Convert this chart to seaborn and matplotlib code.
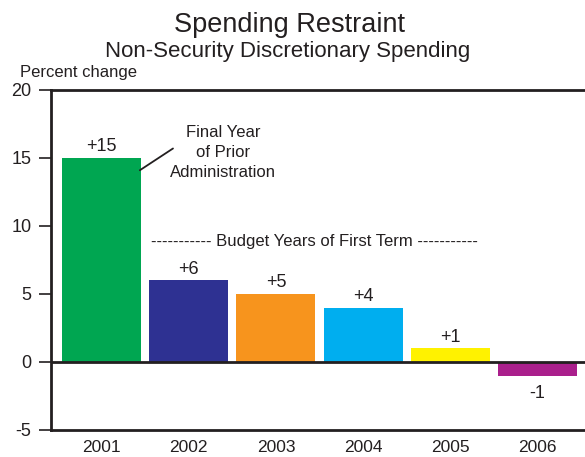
import matplotlib
matplotlib.use("Agg")
import matplotlib.pyplot as plt
import seaborn as sns
import pandas as pd

years = ["2001", "2002", "2003", "2004", "2005", "2006"]
values = [15, 6, 5, 4, 1, -1]
colors = ["#00A651", "#2E3192", "#F7941D", "#00AEEF", "#FFF200", "#AA1F8C"]
yticks = [-5, 0, 5, 10, 15, 20]

sns.set_style("white")
plt.rcParams["font.family"] = ["Liberation Sans", "DejaVu Sans"]
ink = "#231F20"
plt.rcParams["text.color"] = ink

df = pd.DataFrame({"year": years, "value": values})

fig = plt.figure(figsize=(5.85, 4.57), dpi=100)
ax = fig.add_axes([51 / 585, 1 - 430 / 457, 1 - 51 / 585, (430 - 90) / 457])

sns.barplot(data=df, x="year", y="value", hue="year", palette=colors,
            width=0.906, legend=False, ax=ax, saturation=1, linewidth=0, zorder=2)

ax.set_xlim(-0.579, 5.545)
ax.set_ylim(-5, 20)
ax.set_yticks(yticks)
ax.set_yticklabels([str(t) for t in yticks])
ax.set_xlabel("")
ax.set_ylabel("")

for s in ["left", "top", "bottom"]:
    ax.spines[s].set_visible(True)
    ax.spines[s].set_linewidth(2.0)
    ax.spines[s].set_color(ink)
ax.spines["right"].set_visible(False)

ax.axhline(0, color=ink, lw=2.0, zorder=3)

ax.tick_params(axis="y", which="both", left=True, length=9, width=1.2,
               color=ink, labelsize=13, labelcolor=ink, pad=5, direction="out")
ax.tick_params(axis="x", length=0, labelsize=12.5, labelcolor=ink, pad=7)

for i, v in enumerate(values):
    label = f"{v:+d}"
    if v >= 0:
        ax.text(i, v + 0.2, label, ha="center", va="bottom", fontsize=13, color=ink)
    else:
        ax.text(i, v - 0.7, label, ha="center", va="top", fontsize=13, color=ink)

# Annotations
ax.annotate("", xy=(0.44, 14.1), xytext=(0.82, 15.7),
            arrowprops=dict(arrowstyle="-", lw=1.3, color=ink, shrinkA=0, shrinkB=0))
ax.text(1.393, 15.4, "Final Year\nof Prior\nAdministration", ha="center", va="center",
        fontsize=12, color=ink, linespacing=1.4)
ax.text(2.437, 8.87, "----------- Budget Years of First Term -----------",
        ha="center", va="center", fontsize=12, color=ink)

fig.text(20 / 585, 1 - 72 / 457, "Percent change", ha="left", va="center", fontsize=12, color=ink)
fig.text(290 / 585, 1 - 32 / 457, "Spending Restraint", ha="center", va="baseline",
         fontsize=19.5, color=ink)
fig.text(288 / 585, 1 - 57 / 457, "Non-Security Discretionary Spending", ha="center",
         va="baseline", fontsize=16, color=ink)

fig.savefig("out.png", dpi=100)
